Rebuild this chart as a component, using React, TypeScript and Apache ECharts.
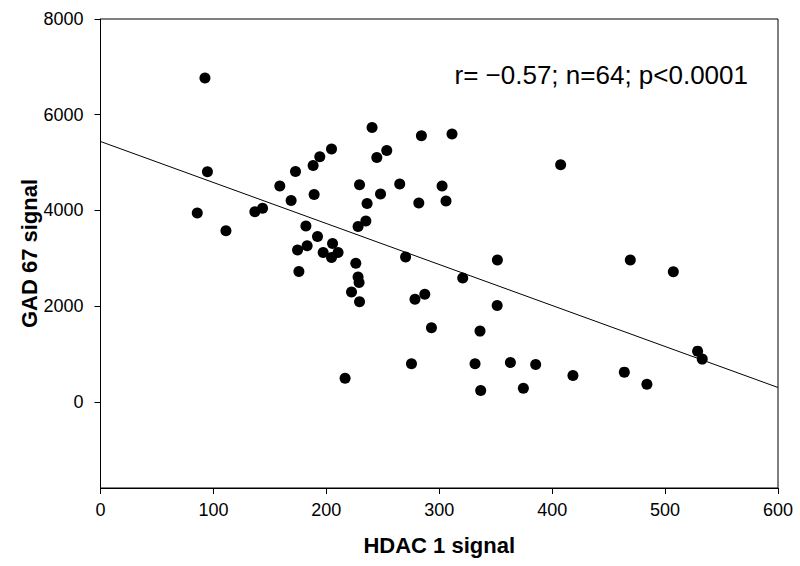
import React, { useEffect, useRef } from "react";
import * as echarts from "echarts";

const hdac1: number[] = [
  92.5, 94.7, 85.7, 111.1, 136.7, 143.5, 158.8, 172.7, 188.3, 194.2, 204.6, 189.2,
  168.8, 181.9, 192.2, 205.5, 183.0, 174.5, 197.2, 210.4, 204.6, 175.7, 216.6,
  240.5, 284.2, 311.3, 253.5, 244.7, 229.4, 265.0, 248.0, 236.1, 302.5, 281.9,
  306.0, 235.0, 228.1, 270.2, 351.5, 320.8, 226.1, 228.1, 229.0, 222.3, 229.4,
  278.5, 287.2, 351.3, 293.1, 336.1, 275.4, 331.7, 363.0, 385.4, 336.7, 374.5,
  418.4, 463.9, 483.9, 469.2, 507.3, 528.8, 532.9, 407.5,
];
const gad67: number[] = [
  6766, 4808, 3944, 3574, 3972, 4045, 4509, 4814, 4939, 5121, 5282, 4333,
  4208, 3673, 3455, 3309, 3261, 3171, 3121, 3121, 3016, 2724, 491,
  5734, 5560, 5596, 5253, 5107, 4536, 4551, 4342, 4145, 4509, 4153,
  4195, 3777, 3664, 3027, 2962, 2586, 2895, 2609, 2492, 2295, 2090,
  2143, 2247, 2013, 1547, 1478, 794, 794, 822, 780, 236, 282,
  550, 621, 370, 2962, 2717, 1060, 893, 4954,
];
const fitX: number[] = [0, 600];
const fitY: number[] = [5440, 300];
const yTicks: number[] = [0, 2000, 4000, 6000, 8000];
const statText = "r= \u22120.57; n=64; p<0.0001";

const FONT = "'Liberation Sans', Arial, Helvetica, sans-serif";

export default function App() {
  const ref = useRef<HTMLDivElement>(null);
  useEffect(() => {
    if (!ref.current) return;
    const chart = echarts.init(ref.current, null, { renderer: "svg" });
    chart.setOption({
      animation: false,
      backgroundColor: "#fff",
      textStyle: { fontFamily: FONT },
      grid: {
        left: 100.5,
        right: 22,
        top: 19,
        bottom: 78,
        show: true,
        borderColor: "#000",
        borderWidth: 1,
        backgroundColor: "transparent",
      },
      xAxis: {
        type: "value",
        min: 0,
        max: 600,
        interval: 100,
        name: "HDAC 1 signal",
        nameLocation: "middle",
        nameGap: 46,
        nameMoveOverlap: false,
        nameTextStyle: { fontSize: 22, fontWeight: "bold", color: "#000", fontFamily: FONT },
        axisLine: { show: true, onZero: false, lineStyle: { color: "#000", width: 1 } },
        axisTick: { show: true, inside: false, length: 6, lineStyle: { color: "#000" } },
        axisLabel: { fontSize: 18, color: "#000", margin: 13, fontFamily: FONT },
        splitLine: { show: false },
      },
      yAxis: {
        type: "value",
        min: -1800,
        max: 8000,
        name: "GAD 67 signal",
        nameLocation: "middle",
        nameGap: 60,
        nameMoveOverlap: false,
        nameTextStyle: { fontSize: 22, fontWeight: "bold", color: "#000", fontFamily: FONT },
        axisLine: { show: true, onZero: false, lineStyle: { color: "#000", width: 1 } },
        axisTick: { show: true, inside: false, length: 6, customValues: yTicks, lineStyle: { color: "#000" } },
        axisLabel: {
          fontSize: 18,
          color: "#000",
          margin: 17,
          customValues: yTicks,
          fontFamily: FONT,
          formatter: (v: number) => String(v),
        },
        splitLine: { show: false },
      },
      series: [
        {
          type: "line",
          data: fitX.map((x, i) => [x, fitY[i]]),
          showSymbol: false,
          symbol: "none",
          lineStyle: { color: "#000", width: 1 },
          silent: true,
          z: 1,
        },
        {
          type: "scatter",
          data: hdac1.map((x, i) => [x, gad67[i]]),
          symbol: "circle",
          symbolSize: 11,
          itemStyle: { color: "#000", opacity: 1 },
          z: 2,
        },
      ],
      graphic: [
        {
          type: "text",
          x: 748,
          y: 75,
          style: {
            text: statText,
            fontSize: 26,
            fontFamily: FONT,
            fill: "#000",
            textAlign: "right",
            textVerticalAlign: "middle",
          },
        },
      ],
    });
    return () => chart.dispose();
  }, []);
  return (
    <div
      ref={ref}
      style={{ position: "fixed", left: 0, top: 0, width: 800, height: 566 }}
    />
  );
}
